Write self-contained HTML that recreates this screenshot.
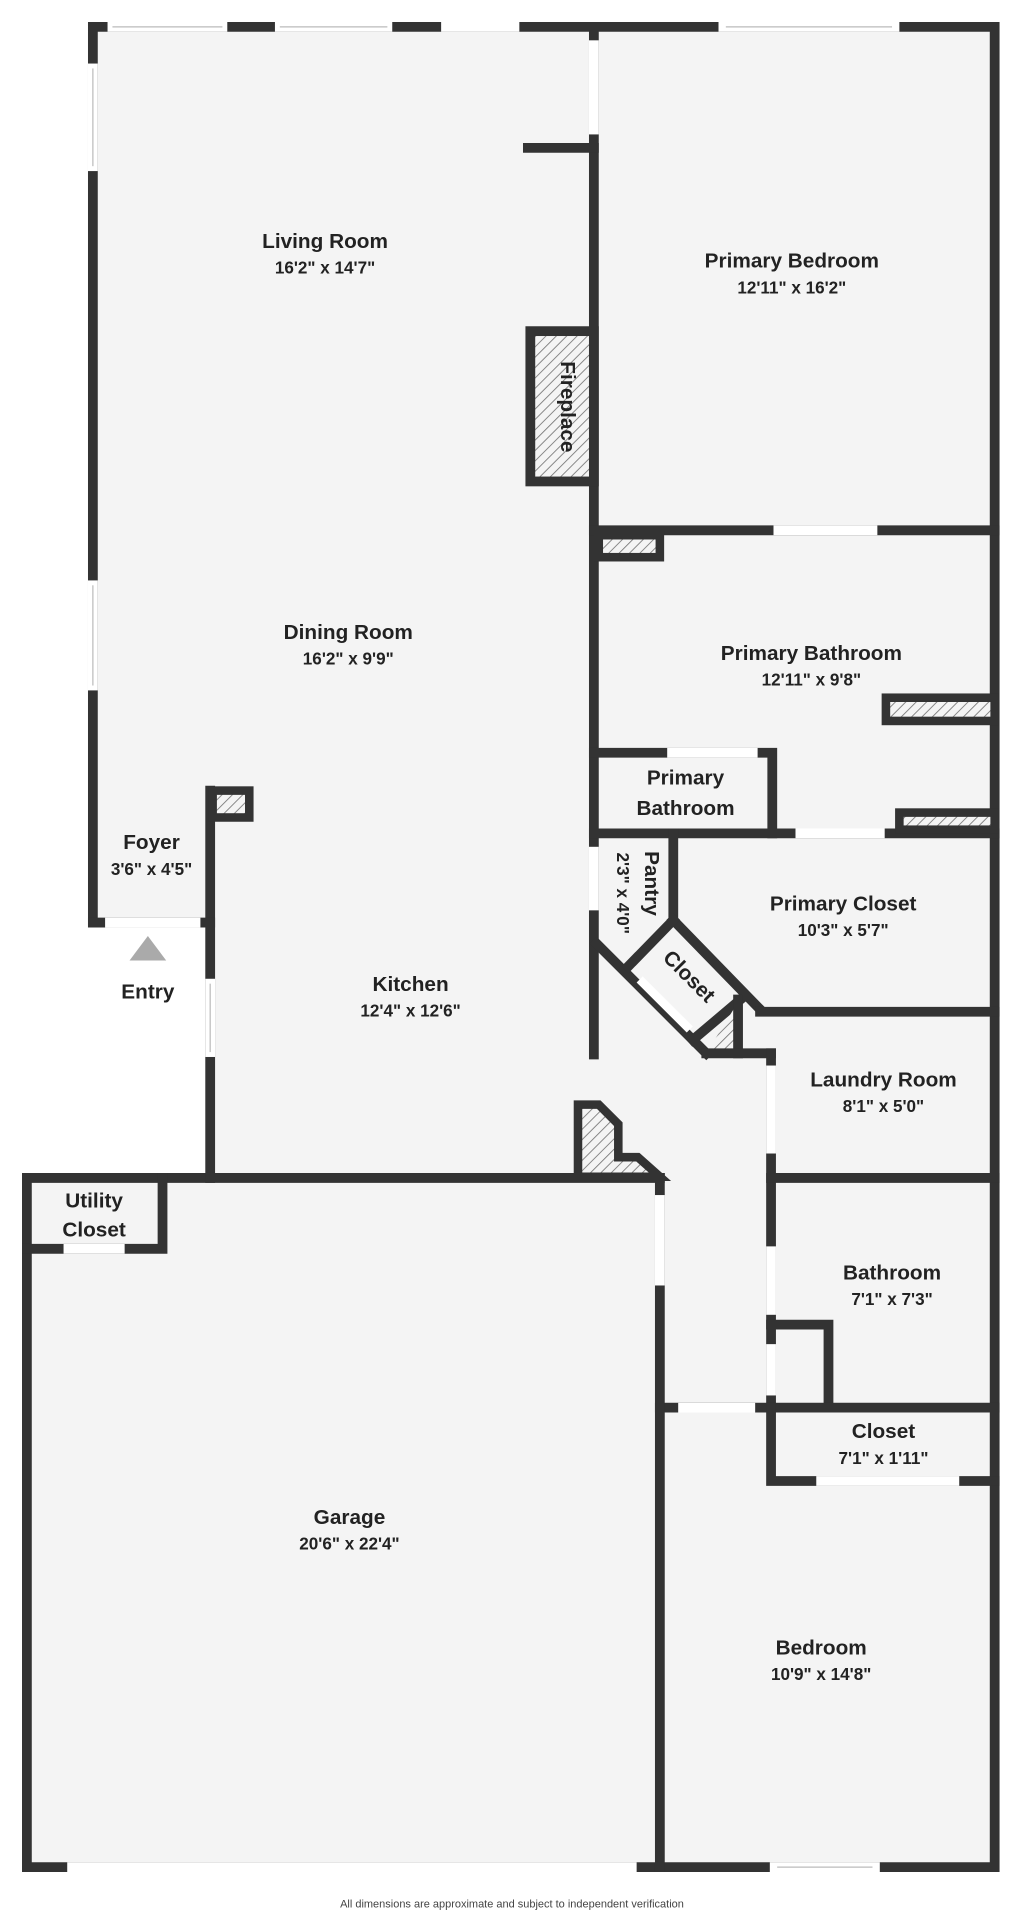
<!DOCTYPE html>
<html><head><meta charset="utf-8"><style>
html,body{margin:0;padding:0;background:#fff;}
svg{display:block;}
text{font-family:"Liberation Sans",sans-serif;fill:#222;}
.n{font-size:17px;font-weight:bold;text-anchor:middle;}
.d{font-size:14px;font-weight:bold;text-anchor:middle;}
</style></head><body>
<svg width="1024" height="1916" viewBox="0 0 838 1568" xmlns="http://www.w3.org/2000/svg">
<defs>
<pattern id="h" width="6" height="6" patternUnits="userSpaceOnUse" patternTransform="rotate(45)">
<rect width="6" height="6" fill="#f4f4f4"/><line x1="0" y1="0" x2="0" y2="6" stroke="#777" stroke-width="1.4"/>
</pattern>
</defs>
<rect width="838" height="1568" fill="#fff"/>
<!-- floor fills -->
<g fill="#f4f4f4">
<rect x="76" y="22" width="740" height="733"/>
<rect x="172" y="740" width="370" height="225"/>
<rect x="22" y="964" width="794" height="564"/>
<rect x="486" y="740" width="330" height="230"/>
</g>
<g stroke="#333" stroke-width="8" fill="none" stroke-linecap="square">
<!-- outer -->
<path d="M76 755 V22 H814 V1528 H22 V964 H540"/>
<line x1="172" y1="964" x2="172" y2="647"/>
<line x1="76" y1="755" x2="172" y2="755"/>
<!-- central wall -->
<line x1="486" y1="22" x2="486" y2="863"/>
<line x1="432" y1="121" x2="486" y2="121"/>
<!-- fireplace -->
<rect x="434" y="271" width="52" height="123" fill="url(#h)"/>
<!-- primary bedroom bottom -->
<line x1="486" y1="434" x2="814" y2="434"/>
<rect x="490" y="438" width="50" height="18" fill="url(#h)" stroke-width="7"/>
<!-- primary bathroom -->
<rect x="725" y="571" width="89" height="19" fill="url(#h)" stroke-width="7"/>
<path d="M486 616 H632 V682"/>
<line x1="486" y1="682" x2="814" y2="682"/>
<rect x="736" y="665" width="78" height="14" fill="url(#h)" stroke-width="7"/>
<!-- pantry/closet -->
<line x1="551" y1="682" x2="551" y2="753"/>
<path d="M551 753 L622 826"/>
<path d="M488 772 L578 862"/>
<path d="M551 753 L514 791"/>
<path d="M606 818 L567 851"/>
<polygon points="604,820 604,862 578,862" fill="url(#h)" stroke-width="0"/>
<line x1="604" y1="818" x2="604" y2="862"/>
<line x1="578" y1="862" x2="631" y2="862"/>
<line x1="622" y1="828" x2="814" y2="828"/>
<!-- laundry / bathroom -->
<line x1="631" y1="862" x2="631" y2="1152"/>
<line x1="631" y1="964" x2="814" y2="964"/>
<path d="M631 1084 H678 V1152"/>
<line x1="540" y1="1152" x2="814" y2="1152"/>
<path d="M631 1152 V1212 H814"/>
<!-- garage -->
<line x1="540" y1="964" x2="540" y2="1528"/>
<path d="M22 1022 H133 V964"/>
<!-- foyer box -->
<rect x="174" y="647" width="30" height="22" fill="url(#h)" stroke-width="7"/>
<!-- notch -->
<polygon points="473,904 490,904 506,920 506,947 522,947 540,963 473,963" fill="url(#h)" stroke-width="7"/>
</g>
<!-- openings (white) -->
<g fill="#fff">
<rect x="88" y="18" width="98" height="8"/><rect x="225" y="18" width="96" height="8"/>
<rect x="361" y="18" width="64" height="8"/><rect x="588" y="18" width="148" height="8"/>
<rect x="482" y="33" width="8" height="77"/>
<rect x="72" y="52" width="8" height="88"/><rect x="72" y="475" width="8" height="90"/>
<rect x="86" y="751" width="78" height="8"/>
<rect x="168" y="801" width="8" height="64"/>
<rect x="633" y="430" width="85" height="8"/>
<rect x="546" y="612" width="74" height="8"/>
<rect x="651" y="678" width="73" height="8"/>
<rect x="482" y="693" width="8" height="52"/>
<rect x="627" y="872" width="8" height="72"/>
<rect x="627" y="1020" width="8" height="56"/><rect x="627" y="1100" width="8" height="42"/>
<rect x="536" y="978" width="8" height="74"/>
<rect x="555" y="1148" width="63" height="8"/>
<rect x="668" y="1208" width="117" height="8"/>
<rect x="52" y="1018" width="50" height="8"/>
<rect x="55" y="1524" width="466" height="8"/>
<rect x="630" y="1524" width="90" height="8"/>
</g>
<polygon points="521,804 526,799 567,840 562,845" fill="#fff"/>
<g stroke="#bbb" stroke-width="1" fill="none">
<line x1="92" y1="22" x2="182" y2="22"/><line x1="229" y1="22" x2="317" y2="22"/><line x1="594" y1="22" x2="730" y2="22"/>
<line x1="76" y1="56" x2="76" y2="136"/><line x1="76" y1="479" x2="76" y2="561"/>
<line x1="172" y1="805" x2="172" y2="861"/><line x1="636" y1="1528" x2="714" y2="1528"/>
</g>
<polygon points="121,766 106,786 136,786" fill="#aaa"/>
<!-- labels -->
<text class="n" x="266" y="203">Living Room</text><text class="d" x="266" y="224">16'2" x 14'7"</text>
<text class="n" x="648" y="219">Primary Bedroom</text><text class="d" x="648" y="240">12'11" x 16'2"</text>
<text class="n" x="459" y="333" transform="rotate(90 459 333)">Fireplace</text>
<text class="n" x="285" y="523">Dining Room</text><text class="d" x="285" y="544">16'2" x 9'9"</text>
<text class="n" x="664" y="540">Primary Bathroom</text><text class="d" x="664" y="561">12'11" x 9'8"</text>
<text class="n" x="561" y="642">Primary</text><text class="n" x="561" y="667">Bathroom</text>
<text class="n" x="124" y="695">Foyer</text><text class="d" x="124" y="716">3'6" x 4'5"</text>
<text class="n" x="690" y="745">Primary Closet</text><text class="d" x="690" y="766">10'3" x 5'7"</text>
<text class="n" x="528" y="723" transform="rotate(90 528 723)">Pantry</text>
<text class="d" x="505" y="731" transform="rotate(90 505 731)">2'3" x 4'0"</text>
<text class="n" x="560" y="803" transform="rotate(45 560 803)">Closet</text>
<text class="n" x="121" y="817">Entry</text>
<text class="n" x="336" y="811">Kitchen</text><text class="d" x="336" y="832">12'4" x 12'6"</text>
<text class="n" x="723" y="889">Laundry Room</text><text class="d" x="723" y="910">8'1" x 5'0"</text>
<text class="n" x="77" y="988">Utility</text><text class="n" x="77" y="1012">Closet</text>
<text class="n" x="730" y="1047">Bathroom</text><text class="d" x="730" y="1068">7'1" x 7'3"</text>
<text class="n" x="723" y="1177">Closet</text><text class="d" x="723" y="1198">7'1" x 1'11"</text>
<text class="n" x="286" y="1247">Garage</text><text class="d" x="286" y="1268">20'6" x 22'4"</text>
<text class="n" x="672" y="1354">Bedroom</text><text class="d" x="672" y="1375">10'9" x 14'8"</text>
<text x="419" y="1561" style="font-size:9px;text-anchor:middle;fill:#444">All dimensions are approximate and subject to independent verification</text>
</svg>
</body></html>
